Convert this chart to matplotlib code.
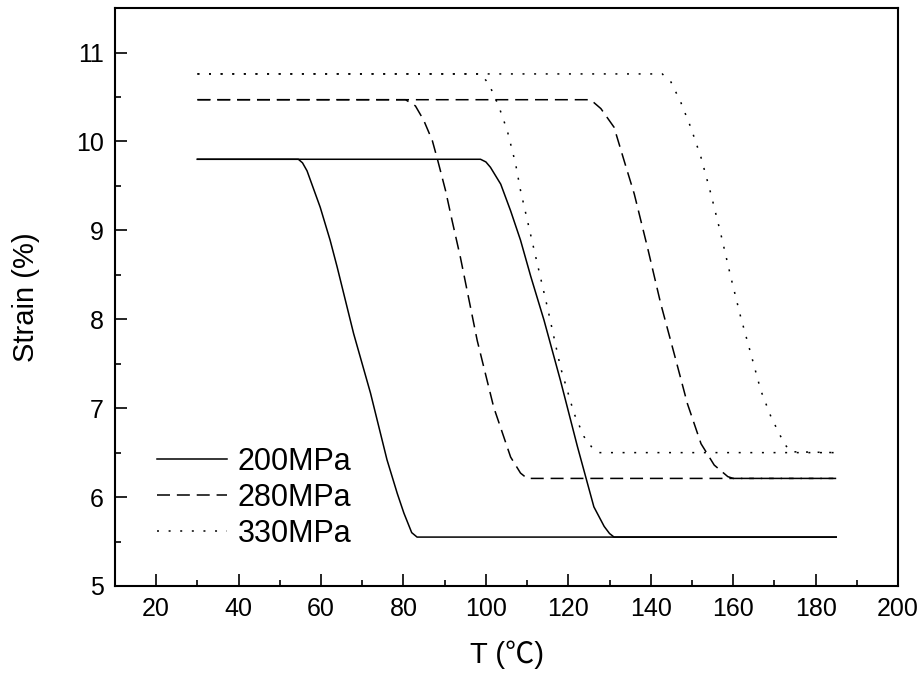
import matplotlib.pyplot as plt
from matplotlib.ticker import MultipleLocator

plt.rcParams['font.family'] = ['Liberation Sans', 'Noto Sans CJK SC', 'DejaVu Sans']

# 200MPa, two curves
t_200a = [30, 54.5, 55.5, 56.6, 59.8, 62.2, 63.9, 67.9, 72.0, 76.0, 78.5, 80.1, 82.0, 83.3, 185]
s_200a = [9.80, 9.80, 9.76, 9.67, 9.26, 8.89, 8.59, 7.84, 7.17, 6.42, 6.04, 5.82, 5.60, 5.55, 5.55]
t_200b = [30, 98.7, 100.0, 101.1, 103.6, 106.0, 108.4, 110.9, 114.1, 118.1, 122.2, 126.2, 128.7, 130.0, 131.1, 185]
s_200b = [9.80, 9.80, 9.77, 9.71, 9.52, 9.22, 8.89, 8.48, 7.99, 7.31, 6.57, 5.89, 5.67, 5.59, 5.55, 5.55]

# 280MPa
t_280a = [30, 80.5, 82.9, 84.9, 87.0, 88.3, 90.2, 91.8, 93.8, 97.9, 101.9, 106.0, 108.4, 110.0, 185]
s_280a = [10.47, 10.47, 10.40, 10.24, 10.01, 9.79, 9.45, 9.11, 8.70, 7.76, 7.01, 6.45, 6.27, 6.21, 6.21]
t_280b = [30, 125.4, 127.9, 131.1, 133.5, 136.0, 139.2, 142.4, 145.7, 148.9, 152.2, 155.4, 158.7, 160.0, 185]
s_280b = [10.47, 10.47, 10.37, 10.16, 9.79, 9.41, 8.81, 8.18, 7.61, 7.05, 6.60, 6.36, 6.23, 6.21, 6.21]

# 330MPa
t_330a = [30, 98.7, 100.7, 103.1, 105.2, 107.2, 108.4, 111.7, 114.9, 118.1, 121.4, 123.8, 126.2, 127.5, 185]
s_330a = [10.76, 10.76, 10.65, 10.40, 10.12, 9.75, 9.45, 8.78, 8.14, 7.46, 6.94, 6.68, 6.53, 6.50, 6.50]
t_330b = [30, 142.8, 144.9, 147.3, 149.7, 152.2, 154.6, 157.0, 159.4, 161.8, 164.3, 166.7, 169.2, 172.4, 174.0, 185]
s_330b = [10.76, 10.76, 10.67, 10.44, 10.16, 9.82, 9.41, 8.96, 8.48, 8.03, 7.61, 7.20, 6.90, 6.60, 6.51, 6.50]

LW = 1.1
DASHED = (0, (8.5, 4.5))
DOTTED = (0, (1.3, 6.3))

fig = plt.figure(figsize=(9.22, 6.79), dpi=100)
ax = fig.add_axes([0.1247, 0.137, 0.974 - 0.1247, 0.988 - 0.137])

ax.plot(t_200a, s_200a, color='black', lw=LW, label='200MPa')
ax.plot(t_200b, s_200b, color='black', lw=LW)
ax.plot(t_280a, s_280a, color='black', lw=LW, ls=DASHED, label='280MPa')
ax.plot(t_280b, s_280b, color='black', lw=LW, ls=DASHED)
ax.plot(t_330a, s_330a, color='black', lw=LW, ls=DOTTED, label='330MPa')
ax.plot(t_330b, s_330b, color='black', lw=LW, ls=DOTTED)

ax.set_xlim(10, 200)
ax.set_ylim(5, 11.5)
ax.xaxis.set_major_locator(MultipleLocator(20))
ax.xaxis.set_minor_locator(MultipleLocator(10))
ax.yaxis.set_major_locator(MultipleLocator(1))
ax.yaxis.set_minor_locator(MultipleLocator(0.5))
ax.set_xticks(range(20, 201, 20))

for sp in ax.spines.values():
    sp.set_linewidth(1.5)
ax.tick_params(which='major', direction='in', length=8.5, width=1.2, labelsize=18, pad=8)
ax.tick_params(which='minor', direction='in', length=4.5, width=1.2)
ax.tick_params(which='both', top=False, right=False)

ax.set_xlabel('T (℃)', fontsize=21, labelpad=14)
ax.set_ylabel('Strain (%)', fontsize=21, labelpad=26)

ax.legend(loc='upper left', bbox_to_anchor=(0.038, 0.262), frameon=False, fontsize=22,
          handlelength=2.3, handletextpad=0.35, labelspacing=0.2, borderaxespad=0)

fig.savefig('out.png', dpi=100)
